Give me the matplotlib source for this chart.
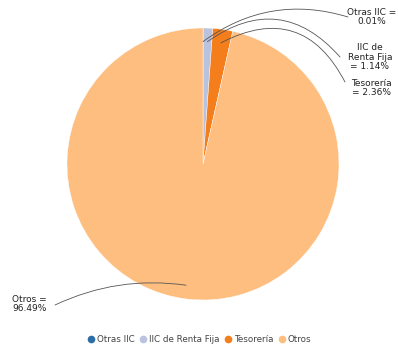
import numpy as np
import matplotlib.pyplot as plt
from matplotlib.lines import Line2D

labels = ['Otras IIC', 'IIC de Renta Fija', 'Tesorería', 'Otros']
values = [0.01, 1.14, 2.36, 96.49]
colors = ['#2e6ea6', '#b9c3df', '#f47d1c', '#fdbe80']
label_texts = ['Otras IIC =\n0.01%', 'IIC de\nRenta Fija\n= 1.14%', 'Tesorería\n= 2.36%', 'Otros =\n96.49%']

W, H = 398, 347
fig = plt.figure(figsize=(W / 100, H / 100), dpi=100)
ax = fig.add_axes([0, 0, 1, 1])

cx, cy, r = 203, H - 164, 136
wedges, _ = ax.pie(values, colors=colors, startangle=90, counterclock=False,
                   center=(cx, cy), radius=r, frame=True,
                   wedgeprops=dict(linewidth=0.3, edgecolor='white'))
ax.set_xlim(0, W)
ax.set_ylim(0, H)
ax.set_aspect('equal')
ax.axis('off')

# label positions (pixels) and curvature of connectors
text_pos = [(396, H - 17), (392, H - 57), (392, H - 88), (12, H - 304)]
line_start = [(348, H - 17), (340, H - 57), (345, H - 82), (55, H - 305)]
rads = [0.25, 0.45, 0.5, -0.15]
for i, w in enumerate(wedges):
    ang = np.deg2rad((w.theta1 + w.theta2) / 2)
    pr = 0.9 * r
    if i == 3:
        ang = np.deg2rad(-98)
    px, py = cx + pr * np.cos(ang), cy + pr * np.sin(ang)
    ha = 'right' if i < 3 else 'left'
    ax.text(text_pos[i][0], text_pos[i][1], label_texts[i], ha=ha, va='center',
            fontsize=6.5, color='#222222', multialignment='center' if i < 3 else 'left',
            linespacing=1.1)
    ax.annotate('', xy=(px, py), xytext=line_start[i],
                arrowprops=dict(arrowstyle='-', color='#555555', lw=0.6,
                                connectionstyle='arc3,rad=%s' % rads[i],
                                shrinkA=0, shrinkB=0))

handles = [Line2D([], [], marker='o', linestyle='', markersize=4.5,
                  markerfacecolor=c, markeredgecolor=c) for c in colors]
fig.legend(handles, labels, loc='center', bbox_to_anchor=(0.5, 1 - 340 / H), ncol=4,
           frameon=False, fontsize=6.3, handletextpad=0.15, columnspacing=0.5,
           handlelength=1.0, labelcolor='#444444')

plt.savefig('out.png', dpi=100)
